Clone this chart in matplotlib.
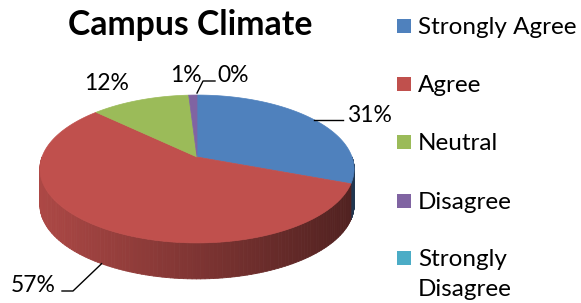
import numpy as np
import matplotlib
matplotlib.use("Agg")
import matplotlib.pyplot as plt
from matplotlib.collections import PolyCollection
from matplotlib.patches import Polygon, Rectangle
from matplotlib.colors import to_rgb

plt.rcParams['font.family'] = ['Lato', 'DejaVu Sans']

#%% data
title = 'Campus Climate'
categories = ['Strongly Agree', 'Agree', 'Neutral', 'Disagree', 'Strongly\nDisagree']
values = [31, 57, 12, 1, 0]  # percent
colors = ['#4F81BD', '#C0504D', '#9BBB59', '#8064A2', '#4BACC6']

#%% geometry of the 3d pie (pixel coords)
cx, cy = 197, 157      # apex of pie on screen
A, B = 72, 155         # vertical / horizontal radius
k = 0.162              # perspective factor
depth = 36


def proj(theta, drop=0.0):
    t = np.radians(theta)
    u, v = np.cos(t), np.sin(t)
    d = 1 + k * v
    return cx + B * u / d, cy - A * v / d + drop


fig = plt.figure(figsize=(5.81, 3.03), dpi=100)
ax = fig.add_axes([0, 0, 1, 1])
ax.set_xlim(0, 581)
ax.set_ylim(303, 0)
ax.axis('off')

frac = np.array(values, float) / np.sum(values)
spans = frac * 360
ends = 90 - np.cumsum(spans)
starts = ends + spans

x_left, x_right = 39, 353

#%% side walls (front half only)
for s, e, c in zip(starts, ends, colors):
    lo, hi = max(e, -180), min(s, 0)
    if hi <= lo:
        continue
    th = np.linspace(lo, hi, 120)
    polys, fcs = [], []
    base = np.array(to_rgb(c))
    for t1, t2 in zip(th[:-1], th[1:]):
        x1, y1 = proj(t1)
        x2, y2 = proj(t2)
        polys.append([(x1, y1), (x2, y2), (x2, y2 + depth), (x1, y1 + depth)])
        xm = 0.5 * (x1 + x2)
        f = 0.9 - 0.48 * (xm - x_left) / (x_right - x_left)
        fcs.append(np.clip(base * f, 0, 1))
    ax.add_collection(PolyCollection(polys, facecolors=fcs, edgecolors=fcs,
                                     linewidths=0.6))

#%% top faces
for s, e, c in zip(starts, ends, colors):
    if s - e <= 0:
        continue
    th = np.linspace(s, e, 200)
    xs, ys = proj(th)
    pts = [(cx, cy)] + list(zip(xs, ys))
    ax.add_patch(Polygon(pts, closed=True, facecolor=c, edgecolor=c, lw=0.5))

#%% data labels with leader lines
mids = 0.5 * (starts + ends)
lab_fs = 16.5
# 31%
ax0, ay0 = proj(mids[0])
ax.plot([ax0, 343], [ay0 + 1, ay0 + 1], color='black', lw=1)
ax.text(347, 115, f'{values[0]}%', fontsize=lab_fs, va='center', ha='left')
# 57%
ax1, ay1 = proj(mids[1], depth)
ax.plot([ax1, 73, 62], [ay1, 291, 291], color='black', lw=1)
ax.text(56, 285, f'{values[1]}%', fontsize=lab_fs, va='center', ha='right')
# 12%
ax.text(107, 83, f'{values[2]}%', fontsize=lab_fs, va='center', ha='center')
# 1%
ax.text(186, 76, f'{values[3]}%', fontsize=lab_fs, va='center', ha='center')
# 0%
ax4, ay4 = proj(mids[4])
ax.plot([ax4, 203, 215], [ay4 - 2, 81, 81], color='black', lw=1)
ax.text(217, 76, f'{values[4]}%', fontsize=lab_fs, va='center', ha='left')

#%% title
ax.text(190, 25, title, fontsize=24.3, fontweight='bold', ha='center', va='center')

#%% legend
leg_y = [26, 84, 142, 201, 258]
for lab, c, yy in zip(categories, colors, leg_y):
    ax.add_patch(Rectangle((397, yy - 7), 14, 14, facecolor=c, edgecolor='none'))
    lines = lab.split('\n')
    for j, ln in enumerate(lines):
        ax.text(418, yy + 8 + 30 * j, ln, fontsize=17.5, ha='left', va='baseline')

fig.savefig('out.png', dpi=100)
